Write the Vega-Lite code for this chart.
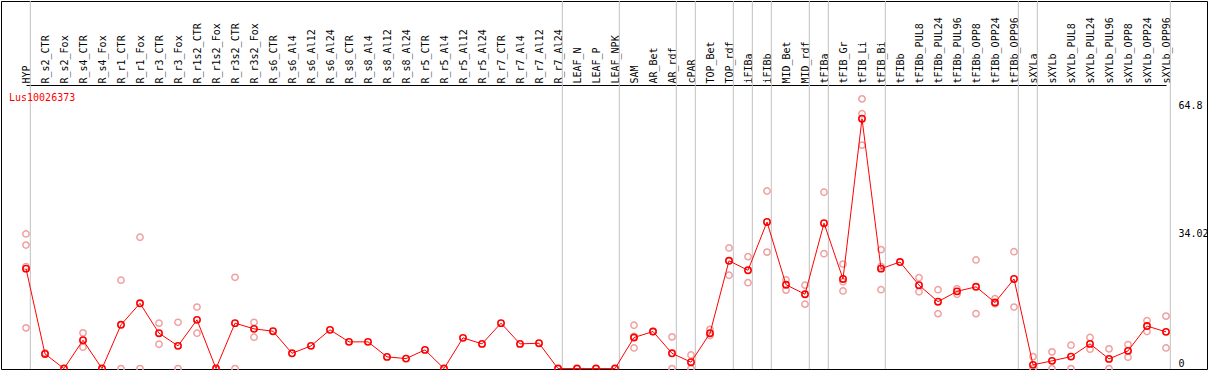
{
"$schema": "https://vega.github.io/schema/vega-lite/v6.json",
"width": 1206, "height": 368,
"autosize": "none",
"padding": {"left": 1, "top": 1, "right": 2, "bottom": 1},
"background": "white",
"config": {"view": {"stroke": "black", "strokeWidth": 1}, "font": "DejaVu Sans Mono"},
"title": {"text": "Lus10026373", "color": "#ff0000", "font": "DejaVu Sans Mono", "fontSize": 10, "fontWeight": "normal", "anchor": "start", "frame": "group", "orient": "top", "offset": -110, "dx": 8, "baseline": "alphabetic"},
"datasets": {
"means": [
{"sample":"HYP","value":24.2},{"sample":"R_s2_CTR","value":3.55},{"sample":"R_s2_Fox","value":0},{"sample":"R_s4_CTR","value":6.87},{"sample":"R_s4_Fox","value":0},
{"sample":"R_r1_CTR","value":10.6},{"sample":"R_r1_Fox","value":15.8},{"sample":"R_r3_CTR","value":8.57},{"sample":"R_r3_Fox","value":5.5},{"sample":"R_r1s2_CTR","value":11.8},
{"sample":"R_r1s2_Fox","value":0},{"sample":"R_r3s2_CTR","value":11.0},{"sample":"R_r3s2_Fox","value":9.62},{"sample":"R_s6_CTR","value":9.05},{"sample":"R_s6_Al4","value":3.7},
{"sample":"R_s6_Al12","value":5.5},{"sample":"R_s6_Al24","value":9.38},{"sample":"R_s8_CTR","value":6.47},{"sample":"R_s8_Al4","value":6.47},{"sample":"R_s8_Al12","value":2.83},
{"sample":"R_s8_Al24","value":2.42},{"sample":"R_r5_CTR","value":4.53},{"sample":"R_r5_Al4","value":0},{"sample":"R_r5_Al12","value":7.44},{"sample":"R_r5_Al24","value":5.98},
{"sample":"R_r7_CTR","value":11.0},{"sample":"R_r7_Al4","value":5.98},{"sample":"R_r7_Al12","value":6.14},{"sample":"R_r7_Al24","value":0},{"sample":"LEAF_N","value":0},
{"sample":"LEAF_P","value":0},{"sample":"LEAF_NPK","value":0},{"sample":"SAM","value":7.52},{"sample":"AR_Bet","value":8.97},{"sample":"AR_rdf","value":3.7},
{"sample":"cPAR","value":1.55},{"sample":"TOP_Bet","value":8.57},{"sample":"TOP_rdf","value":26.1},{"sample":"iFIBa","value":23.8},{"sample":"iFIBb","value":35.5},
{"sample":"MID_Bet","value":20.3},{"sample":"MID_rdf","value":18.0},{"sample":"tFIBa","value":35.2},{"sample":"tFIB_Gr","value":21.7},{"sample":"tFIB_Li","value":60.5},
{"sample":"tFIB_Bi","value":24.2},{"sample":"tFIBb","value":25.8},{"sample":"tFIBb_PUL8","value":20.2},{"sample":"tFIBb_PUL24","value":16.2},{"sample":"tFIBb_PUL96","value":18.7},
{"sample":"tFIBb_OPP8","value":19.8},{"sample":"tFIBb_OPP24","value":16.0},{"sample":"tFIBb_OPP96","value":21.7},{"sample":"sXYLa","value":0.9},{"sample":"sXYLb","value":1.87},
{"sample":"sXYLb_PUL8","value":2.9},{"sample":"sXYLb_PUL24","value":5.98},{"sample":"sXYLb_PUL96","value":2.35},{"sample":"sXYLb_OPP8","value":4.29},{"sample":"sXYLb_OPP24","value":10.3},
{"sample":"sXYLb_OPP96","value":8.89}
],
"reps": [
{"sample":"HYP","value":32.6},{"sample":"HYP","value":29.9},{"sample":"HYP","value":24.7},{"sample":"HYP","value":9.86},
{"sample":"R_s2_CTR","value":3.8},
{"sample":"R_s4_CTR","value":8.65},{"sample":"R_s4_CTR","value":5.18},
{"sample":"R_r1_CTR","value":21.4},{"sample":"R_r1_CTR","value":0},
{"sample":"R_r1_Fox","value":31.8},{"sample":"R_r1_Fox","value":0},
{"sample":"R_r3_CTR","value":11.0},{"sample":"R_r3_CTR","value":5.9},
{"sample":"R_r3_Fox","value":11.2},{"sample":"R_r3_Fox","value":0},
{"sample":"R_r1s2_CTR","value":14.9},{"sample":"R_r1s2_CTR","value":8.57},
{"sample":"R_r3s2_CTR","value":22.1},{"sample":"R_r3s2_CTR","value":0},
{"sample":"R_r3s2_Fox","value":11.2},{"sample":"R_r3s2_Fox","value":7.6},
{"sample":"SAM","value":10.5},{"sample":"SAM","value":7.76},{"sample":"SAM","value":5.0},
{"sample":"AR_Bet","value":8.97},
{"sample":"AR_rdf","value":7.68},{"sample":"AR_rdf","value":0},
{"sample":"cPAR","value":3.3},{"sample":"cPAR","value":0},
{"sample":"TOP_Bet","value":9.5},{"sample":"TOP_Bet","value":8.0},
{"sample":"TOP_rdf","value":29.2},{"sample":"TOP_rdf","value":22.6},
{"sample":"iFIBa","value":27.1},{"sample":"iFIBa","value":20.8},
{"sample":"iFIBb","value":43.0},{"sample":"iFIBb","value":28.2},
{"sample":"MID_Bet","value":21.5},{"sample":"MID_Bet","value":19.0},
{"sample":"MID_rdf","value":20.2},{"sample":"MID_rdf","value":15.6},
{"sample":"tFIBa","value":42.7},{"sample":"tFIBa","value":27.8},
{"sample":"tFIB_Gr","value":25.3},{"sample":"tFIB_Gr","value":18.8},{"sample":"tFIB_Gr","value":21.0},
{"sample":"tFIB_Li","value":65.3},{"sample":"tFIB_Li","value":61.7},{"sample":"tFIB_Li","value":54.1},
{"sample":"tFIB_Bi","value":28.8},{"sample":"tFIB_Bi","value":19.1},{"sample":"tFIB_Bi","value":24.7},
{"sample":"tFIBb_PUL8","value":22.0},{"sample":"tFIBb_PUL8","value":18.6},
{"sample":"tFIBb_PUL24","value":19.1},{"sample":"tFIBb_PUL24","value":13.3},
{"sample":"tFIBb_PUL96","value":18.0},{"sample":"tFIBb_PUL96","value":19.3},
{"sample":"tFIBb_OPP8","value":26.3},{"sample":"tFIBb_OPP8","value":13.3},
{"sample":"tFIBb_OPP24","value":16.9},{"sample":"tFIBb_OPP24","value":15.7},
{"sample":"tFIBb_OPP96","value":28.3},{"sample":"tFIBb_OPP96","value":14.9},
{"sample":"sXYLa","value":2.9},{"sample":"sXYLa","value":0},
{"sample":"sXYLb","value":4.05},{"sample":"sXYLb","value":0},
{"sample":"sXYLb_PUL8","value":5.66},{"sample":"sXYLb_PUL8","value":0},
{"sample":"sXYLb_PUL24","value":7.52},{"sample":"sXYLb_PUL24","value":4.7},
{"sample":"sXYLb_PUL96","value":4.77},{"sample":"sXYLb_PUL96","value":0},
{"sample":"sXYLb_OPP8","value":5.82},{"sample":"sXYLb_OPP8","value":2.76},
{"sample":"sXYLb_OPP24","value":11.6},{"sample":"sXYLb_OPP24","value":8.97},
{"sample":"sXYLb_OPP96","value":12.7},{"sample":"sXYLb_OPP96","value":5.0}
],
"seps": [
{"sample":"HYP"},{"sample":"R_r7_Al24"},{"sample":"LEAF_NPK"},{"sample":"AR_rdf"},{"sample":"cPAR"},{"sample":"TOP_rdf"},{"sample":"iFIBa"},{"sample":"iFIBb"},{"sample":"MID_rdf"},{"sample":"tFIBa"},{"sample":"tFIB_Bi"},{"sample":"tFIBb_OPP96"},{"sample":"sXYLa"},{"sample":"sXYLb_OPP96"}
]
},
"layer": [
{
"data": {"name": "seps"},
"mark": {"type": "rule", "color": "#c0c0c0", "strokeWidth": 1, "xOffset": 4.3},
"encoding": {
"x": {"field": "sample", "type": "nominal", "sort": null,
"scale": {"type": "point", "padding": 0, "range": [25, 1165],
"domain": ["HYP","R_s2_CTR","R_s2_Fox","R_s4_CTR","R_s4_Fox","R_r1_CTR","R_r1_Fox","R_r3_CTR","R_r3_Fox","R_r1s2_CTR","R_r1s2_Fox","R_r3s2_CTR","R_r3s2_Fox","R_s6_CTR","R_s6_Al4","R_s6_Al12","R_s6_Al24","R_s8_CTR","R_s8_Al4","R_s8_Al12","R_s8_Al24","R_r5_CTR","R_r5_Al4","R_r5_Al12","R_r5_Al24","R_r7_CTR","R_r7_Al4","R_r7_Al12","R_r7_Al24","LEAF_N","LEAF_P","LEAF_NPK","SAM","AR_Bet","AR_rdf","cPAR","TOP_Bet","TOP_rdf","iFIBa","iFIBb","MID_Bet","MID_rdf","tFIBa","tFIB_Gr","tFIB_Li","tFIB_Bi","tFIBb","tFIBb_PUL8","tFIBb_PUL24","tFIBb_PUL96","tFIBb_OPP8","tFIBb_OPP24","tFIBb_OPP96","sXYLa","sXYLb","sXYLb_PUL8","sXYLb_PUL24","sXYLb_PUL96","sXYLb_OPP8","sXYLb_OPP24","sXYLb_OPP96"]},
"axis": {"orient": "top", "offset": -84, "title": null, "labelAngle": 270, "labelAlign": "left", "labelBaseline": "middle", "labelPadding": 2, "ticks": false, "grid": false, "domain": true, "domainColor": "black", "domainWidth": 1, "labelFont": "DejaVu Sans Mono", "labelFontSize": 10, "labelColor": "black", "labelOverlap": false, "labelBound": false, "labelFlush": false}}
}
},
{
"mark": {"type": "rule", "color": "#c0c0c0", "strokeWidth": 1, "xOffset": -15.3},
"encoding": {"x": {"datum": "HYP", "type": "nominal"}}
},
{
"mark": {"type": "rule", "color": "#c0c0c0", "strokeWidth": 1},
"encoding": {"y": {"datum": 34.02, "type": "quantitative", "scale": {"domain": [-0.1, 89.0], "nice": false, "zero": false},
"axis": {"orient": "right", "offset": -37, "title": null, "values": [0, 34.02, 64.8], "labelExpr": "toString(datum.value)", "ticks": false, "domain": false, "grid": false, "labelAlign": "left", "labelPadding": 8, "labelBaseline": {"condition": {"test": "datum.value == 0", "value": "bottom"}, "value": "top"}, "labelFont": "DejaVu Sans Mono", "labelFontSize": 10, "labelColor": "black", "labelOverlap": false, "labelFlush": false, "labelBound": false}}}
},
{
"data": {"name": "reps"},
"mark": {"type": "point", "shape": "circle", "filled": false, "size": 40, "stroke": "#f0a0a0", "strokeWidth": 1.5, "opacity": 1},
"encoding": {
"x": {"field": "sample", "type": "nominal", "sort": null},
"y": {"field": "value", "type": "quantitative", "scale": {"domain": [-0.1, 89.0], "nice": false, "zero": false}}
}
},
{
"data": {"name": "means"},
"mark": {"type": "line", "color": "#ff0000", "strokeWidth": 1},
"encoding": {
"x": {"field": "sample", "type": "nominal", "sort": null},
"y": {"field": "value", "type": "quantitative", "scale": {"domain": [-0.1, 89.0], "nice": false, "zero": false}}
}
},
{
"data": {"name": "means"},
"mark": {"type": "point", "shape": "circle", "filled": false, "size": 40, "stroke": "#ff0000", "strokeWidth": 1.6, "opacity": 1},
"encoding": {
"x": {"field": "sample", "type": "nominal", "sort": null},
"y": {"field": "value", "type": "quantitative", "scale": {"domain": [-0.1, 89.0], "nice": false, "zero": false}}
}
}
]
}
